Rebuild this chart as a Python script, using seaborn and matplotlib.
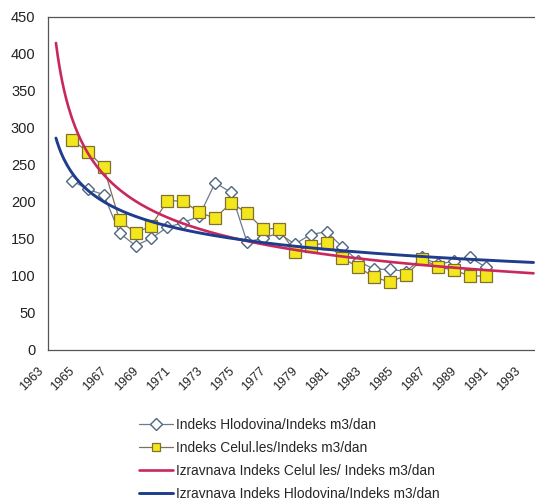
import numpy as np
import pandas as pd
import matplotlib
matplotlib.use("Agg")
import matplotlib.pyplot as plt
import matplotlib.transforms as mtransforms
import seaborn as sns

# Data (index values per year)
years = list(range(1964, 1991))
hlodovina = [229, 217, 210, 158, 141, 151, 166, 172, 181, 226, 213, 146, 151, 158,
             143, 156, 160, 139, 120, 109, 109, 106, 125, 116, 120, 125, 112]
celul_les = [284, 268, 247, 175, 158, 168, 202, 201, 186, 178, 199, 185, 164, 164,
             133, 141, 145, 124, 112, 98, 92, 101, 123, 112, 108, 100, 100]
tick_years = list(range(1963, 1994, 2))
yticks = list(range(0, 451, 50))

lab_hlod = "Indeks Hlodovina/Indeks m3/dan"
lab_cel = "Indeks Celul.les/Indeks m3/dan"
lab_fit_cel = "Izravnava Indeks Celul les/ Indeks m3/dan"
lab_fit_hlod = "Izravnava Indeks Hlodovina/Indeks m3/dan"


def power_trend(yrs, vals, start=1963, end=1993):
    # Excel-style power trendline on category index (1963 -> 1)
    x = np.array(yrs) - 1962
    b, ln_a = np.polyfit(np.log(x), np.log(vals), 1)
    xs = np.linspace(start, end, 300)
    return xs, np.exp(ln_a) * (xs - 1962) ** b


sns.set_theme(style="white")
plt.rcParams["font.family"] = ["Liberation Sans", "DejaVu Sans"]

fig = plt.figure(figsize=(5.35, 5.01), dpi=100)
ax = fig.add_axes([0.0897, 0.3014, 0.9224, 0.6647])

df = pd.DataFrame({"year": years, "hlod": hlodovina, "cel": celul_les})

xs, fit_cel = power_trend(years, celul_les)
_, fit_hlod = power_trend(years, hlodovina)

sns.lineplot(data=df, x="year", y="hlod", ax=ax, color="#6b7b8e", lw=0.9,
             marker="D", markersize=6.5, markerfacecolor="white",
             markeredgecolor="#4f6680", markeredgewidth=1.0, label=lab_hlod)
sns.lineplot(data=df, x="year", y="cel", ax=ax, color="#7d7156", lw=0.9,
             marker="s", markersize=8, markerfacecolor="#f4e61c",
             markeredgecolor="#7f7030", markeredgewidth=0.9, label=lab_cel)
sns.lineplot(x=xs, y=fit_cel, ax=ax, color="#c8285c", lw=1.9, label=lab_fit_cel)
sns.lineplot(x=xs, y=fit_hlod, ax=ax, color="#1f3d8c", lw=2.1, label=lab_fit_hlod)

ax.set_xlim(1962.5, 1993.5)
ax.set_ylim(0, 450)
ax.set_xticks(tick_years)
ax.set_xticklabels([str(y) for y in tick_years], rotation=45, ha="right",
                   va="top", rotation_mode="anchor", fontsize=9, color="#222222")
ax.set_yticks(yticks)
ax.set_yticklabels([str(v) for v in yticks], fontsize=10.5, color="#222222")
ax.tick_params(axis="both", length=0)
ax.tick_params(axis="y", pad=9)
ax.tick_params(axis="x", pad=11)
ax.set_xlabel("")
ax.set_ylabel("")

shift = mtransforms.ScaledTranslation(-0.19, 0, fig.dpi_scale_trans)
for lbl in ax.get_xticklabels():
    lbl.set_transform(lbl.get_transform() + shift)

for s in ax.spines.values():
    s.set_color("#555555")
    s.set_linewidth(0.9)

leg = ax.legend(loc="upper left", bbox_to_anchor=(139 / 535, 1 - 418 / 501),
                bbox_transform=fig.transFigure, frameon=False, fontsize=9.9,
                handlelength=2.5, handletextpad=0.2, labelspacing=0.66,
                borderaxespad=0, borderpad=0)
for h in leg.legend_handles[:2]:
    h.set_markersize(6)

fig.savefig("out.png", dpi=100)
